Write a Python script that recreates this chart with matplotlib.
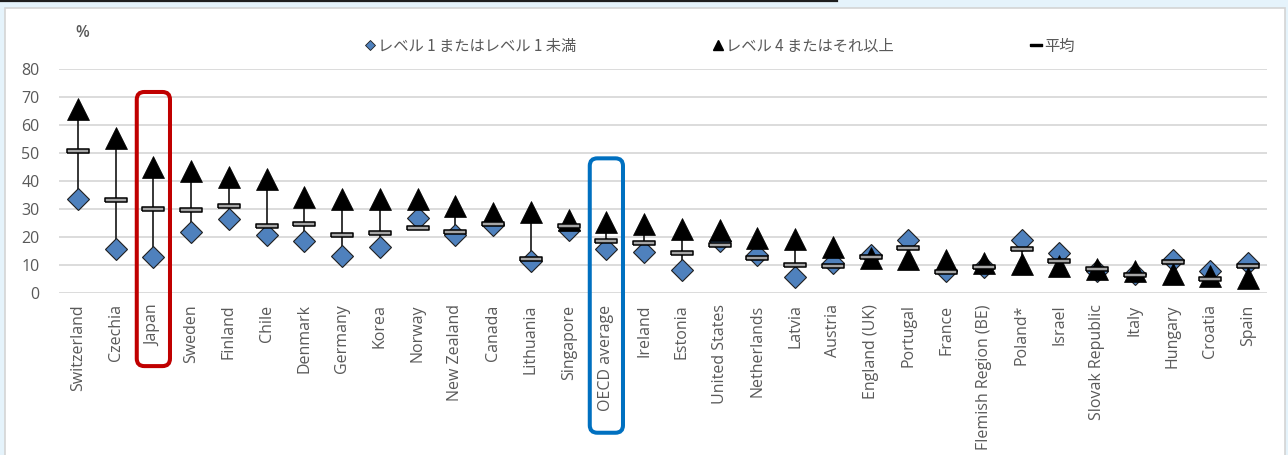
import matplotlib.pyplot as plt
from matplotlib.lines import Line2D
from matplotlib.patches import Rectangle, FancyBboxPatch
import numpy as np

# Data
countries = ["Switzerland", "Czechia", "Japan", "Sweden", "Finland", "Chile", "Denmark",
             "Germany", "Korea", "Norway", "New Zealand", "Canada", "Lithuania", "Singapore",
             "OECD average", "Ireland", "Estonia", "United States", "Netherlands", "Latvia",
             "Austria", "England (UK)", "Portugal", "France", "Flemish Region (BE)", "Poland*",
             "Israel", "Slovak Republic", "Italy", "Hungary", "Croatia", "Spain"]
level1_or_below = [33.7, 15.9, 13.0, 21.9, 26.5, 20.7, 18.8, 13.3, 16.6, 26.8, 20.8, 24.5,
                   11.6, 22.7, 15.9, 14.6, 8.3, 18.5, 13.6, 5.9, 10.8, 13.6, 18.9, 8.1,
                   9.3, 18.9, 14.4, 7.9, 6.9, 12.0, 7.9, 10.8]
level4_or_above = [65.8, 55.6, 45.2, 43.8, 41.4, 40.8, 34.5, 33.7, 33.7, 33.7, 31.3, 28.8,
                   28.9, 26.2, 25.6, 24.7, 23.0, 22.6, 19.7, 19.4, 16.4, 12.7, 12.3, 11.9,
                   10.7, 10.5, 9.9, 8.6, 8.1, 6.9, 6.1, 5.4]
average = [50.8, 33.3, 30.1, 29.9, 31.1, 24.0, 24.8, 20.9, 21.7, 23.3, 22.0, 24.8,
           12.4, 24.1, 18.8, 18.0, 14.3, 17.1, 12.5, 10.0, 9.8, 12.9, 16.1, 7.7,
           9.5, 15.8, 11.6, 8.8, 6.5, 11.1, 5.1, 9.9]
yticks = [0, 10, 20, 30, 40, 50, 60, 70, 80]
legend_labels = ["レベル 1 またはレベル 1 未満", "レベル 4 またはそれ以上", "平均"]

plt.rcParams['font.family'] = ['Open Sans', 'Noto Sans CJK JP', 'DejaVu Sans']
text_gray = '#595959'

W, H = 1288, 455
fig = plt.figure(figsize=(W / 100, H / 100), dpi=100)
fig.patch.set_facecolor('#E5F3FB')

# white chart panel and the dark rule along the top
fig.add_artist(Rectangle((5 / W, -0.02), 1280 / W, (H - 7.5) / H + 0.02,
                         transform=fig.transFigure, facecolor='white',
                         edgecolor='#D4D4D4', lw=1.2, zorder=0))
fig.add_artist(Line2D([0, 837 / W], [1 - 1 / H, 1 - 1 / H], transform=fig.transFigure,
                      color='#1E1E1E', lw=1.6))

ax = fig.add_axes([59 / W, 1 - 293.3 / H, (1267 - 59) / W, (293.3 - 69.3) / H])
ax.set_facecolor('none')

x = np.arange(len(countries))
lo = np.minimum(level1_or_below, level4_or_above)
hi = np.maximum(level1_or_below, level4_or_above)

ax.vlines(x, lo, hi, color='#262626', lw=1.3, zorder=2)
ax.plot(x, level1_or_below, ls='none', marker='D', ms=11.5, mfc='#4F81BD',
        mec='#1F1F1F', mew=0.8, zorder=3, clip_on=False)
ax.plot(x, level4_or_above, ls='none', marker='^', ms=15.5, mfc='black',
        mec='black', mew=0.5, zorder=4, clip_on=False)
bar = [(-1, -0.2), (1, -0.2), (1, 0.2), (-1, 0.2), (-1, -0.2)]
ax.plot(x, average, ls='none', marker=bar, ms=16.5, mfc='#A6A6A6',
        mec='black', mew=1.1, zorder=5, clip_on=False)

ax.set_xlim(-0.5, len(countries) - 0.5)
ax.set_ylim(0, 80)
ax.set_yticks(yticks)
ax.set_xticks(x)
ax.set_xticklabels(countries, rotation=90, fontsize=11.5, color=text_gray)
ax.tick_params(axis='y', length=0, pad=14, labelsize=11.5, labelcolor=text_gray)
ax.tick_params(axis='x', length=0, pad=8)
ax.grid(axis='y', color='#D9D9D9', lw=1.3)
ax.set_axisbelow(True)
for spine in ax.spines.values():
    spine.set_visible(False)

# highlight boxes for Japan and the OECD average
aspect = (80 / 224.0) / (32 / 1208.0)
for idx, top, bottom, color in [(2, 71.9, -26.0, '#C00000'), (14, 48.2, -49.8, '#0070C0')]:
    box = FancyBboxPatch((idx - 0.44, bottom), 0.88, top - bottom,
                         boxstyle='round,pad=0,rounding_size=0.2', mutation_aspect=aspect,
                         transform=ax.transData, fill=False, edgecolor=color, lw=2.9,
                         clip_on=False, zorder=6)
    ax.add_patch(box)

fig.text(82 / W, 1 - 33 / H, '%', ha='center', va='center', fontsize=11.5,
         color=text_gray, fontweight='semibold')

# legend, three entries spread across the top
handles = [
    Line2D([], [], ls='none', marker='D', ms=5, mfc='#4F81BD', mec='#1F1F1F', mew=0.6),
    Line2D([], [], ls='none', marker='^', ms=7, mfc='black', mec='black'),
    Line2D([], [], ls='none', marker=bar, ms=8, mfc='black', mec='black'),
]
for h, lab, left in zip(handles, legend_labels, [365.5, 713.5, 1031.5]):
    fig.legend([h], [lab], loc='center left', bbox_to_anchor=(left / W, 1 - 46 / H),
               frameon=False, borderpad=0, borderaxespad=0, handlelength=0.6,
               handletextpad=0.2, labelcolor=text_gray,
               prop={'family': ['Noto Sans CJK JP'], 'size': 11})

fig.savefig('out.png', dpi=100, facecolor=fig.get_facecolor())
